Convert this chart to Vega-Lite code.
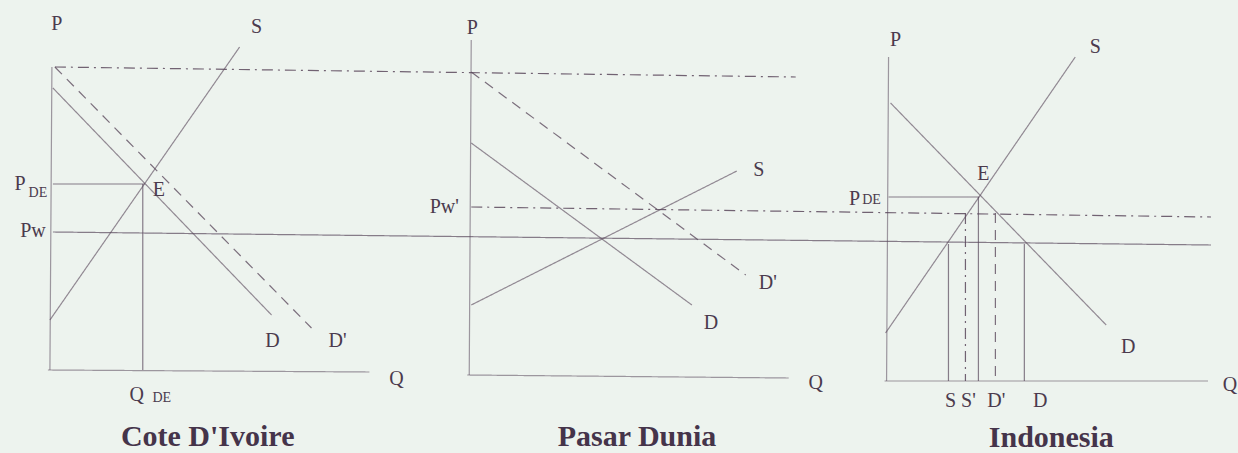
{
  "$schema": "https://vega.github.io/schema/vega-lite/v6.json",
  "width": 1238,
  "height": 453,
  "autosize": {"type": "fit", "contains": "padding"},
  "padding": 0,
  "background": "#edf3ee",
  "config": {"view": {"stroke": null}},
  "datasets": {
    "segs": [
      {"panel": "Cote D'Ivoire", "name": "P axis", "kind": "axis", "q1": 52, "p1": 67, "q2": 50, "p2": 370},
      {"panel": "Cote D'Ivoire", "name": "Q axis", "kind": "axis", "q1": 48, "p1": 370, "q2": 370, "p2": 372},
      {"panel": "Cote D'Ivoire", "name": "S", "kind": "curve", "q1": 50, "p1": 320, "q2": 240, "p2": 47},
      {"panel": "Cote D'Ivoire", "name": "D", "kind": "curve", "q1": 53, "p1": 88, "q2": 272, "p2": 315},
      {"panel": "Cote D'Ivoire", "name": "D'", "kind": "shifted", "q1": 55, "p1": 67, "q2": 312, "p2": 328},
      {"panel": "all", "name": "top price", "kind": "guide", "q1": 55, "p1": 67, "q2": 797, "p2": 77},
      {"panel": "Cote D'Ivoire", "name": "P_DE", "kind": "price", "q1": 53, "p1": 184, "q2": 145, "p2": 184},
      {"panel": "Cote D'Ivoire", "name": "Q_DE", "kind": "price", "q1": 143, "p1": 184, "q2": 143, "p2": 370},
      {"panel": "all", "name": "Pw", "kind": "price", "q1": 53, "p1": 232, "q2": 1213, "p2": 245},
      {"panel": "Pasar Dunia", "name": "P axis", "kind": "axis", "q1": 472, "p1": 40, "q2": 470, "p2": 375},
      {"panel": "Pasar Dunia", "name": "Q axis", "kind": "axis", "q1": 468, "p1": 375, "q2": 790, "p2": 378},
      {"panel": "Pasar Dunia", "name": "D", "kind": "curve", "q1": 472, "p1": 143, "q2": 693, "p2": 305},
      {"panel": "Pasar Dunia", "name": "D'", "kind": "shifted", "q1": 472, "p1": 72, "q2": 747, "p2": 275},
      {"panel": "Pasar Dunia", "name": "S", "kind": "curve", "q1": 472, "p1": 305, "q2": 738, "p2": 171},
      {"panel": "all", "name": "Pw'", "kind": "guide", "q1": 472, "p1": 207, "q2": 1213, "p2": 217},
      {"panel": "Indonesia", "name": "P axis", "kind": "axis", "q1": 890, "p1": 57, "q2": 888, "p2": 381},
      {"panel": "Indonesia", "name": "Q axis", "kind": "axis", "q1": 886, "p1": 381, "q2": 1210, "p2": 381},
      {"panel": "Indonesia", "name": "S", "kind": "curve", "q1": 887, "p1": 333, "q2": 1077, "p2": 57},
      {"panel": "Indonesia", "name": "D", "kind": "curve", "q1": 892, "p1": 103, "q2": 1108, "p2": 325},
      {"panel": "Indonesia", "name": "P_DE", "kind": "price", "q1": 890, "p1": 197, "q2": 981, "p2": 197},
      {"panel": "Indonesia", "name": "S qty", "kind": "price", "q1": 950, "p1": 244, "q2": 950, "p2": 381},
      {"panel": "Indonesia", "name": "S' qty", "kind": "guide", "q1": 967, "p1": 213, "q2": 967, "p2": 381},
      {"panel": "Indonesia", "name": "E qty", "kind": "price", "q1": 980, "p1": 197, "q2": 980, "p2": 381},
      {"panel": "Indonesia", "name": "D' qty", "kind": "shifted", "q1": 997, "p1": 213, "q2": 997, "p2": 381},
      {"panel": "Indonesia", "name": "D qty", "kind": "price", "q1": 1026, "p1": 244, "q2": 1026, "p2": 381}
    ],
    "labels": [
      {"role": "label", "text": "P", "q": 57, "p": 24},
      {"role": "label", "text": "S", "q": 257, "p": 27},
      {"role": "label", "text": "P", "q": 20, "p": 184},
      {"role": "sub", "text": "DE", "q": 38, "p": 193},
      {"role": "label", "text": "E", "q": 159, "p": 190},
      {"role": "label", "text": "Pw", "q": 33, "p": 231},
      {"role": "label", "text": "D", "q": 273, "p": 341},
      {"role": "label", "text": "D'", "q": 338, "p": 341},
      {"role": "label", "text": "Q", "q": 397, "p": 379},
      {"role": "label", "text": "Q", "q": 137, "p": 395},
      {"role": "sub", "text": "DE", "q": 162, "p": 398},
      {"role": "title", "text": "Cote D'Ivoire", "q": 208, "p": 437},
      {"role": "label", "text": "P", "q": 473, "p": 28},
      {"role": "label", "text": "Pw'", "q": 445, "p": 207},
      {"role": "label", "text": "S", "q": 760, "p": 170},
      {"role": "label", "text": "D'", "q": 769, "p": 283},
      {"role": "label", "text": "D", "q": 712, "p": 323},
      {"role": "label", "text": "Q", "q": 817, "p": 383},
      {"role": "title", "text": "Pasar Dunia", "q": 638, "p": 437},
      {"role": "label", "text": "P", "q": 897, "p": 40},
      {"role": "label", "text": "S", "q": 1097, "p": 47},
      {"role": "label", "text": "E", "q": 985, "p": 174},
      {"role": "label", "text": "P", "q": 856, "p": 199},
      {"role": "sub", "text": "DE", "q": 873, "p": 200},
      {"role": "label", "text": "D", "q": 1130, "p": 347},
      {"role": "label", "text": "Q", "q": 1232, "p": 385},
      {"role": "label", "text": "S", "q": 952, "p": 401},
      {"role": "label", "text": "S'", "q": 970, "p": 401},
      {"role": "label", "text": "D'", "q": 998, "p": 401},
      {"role": "label", "text": "D", "q": 1042, "p": 401},
      {"role": "title", "text": "Indonesia", "q": 1053, "p": 438}
    ]
  },
  "layer": [
    {
      "data": {"name": "segs"},
      "mark": {"type": "rule", "strokeWidth": 1.2, "color": "#5a485c"},
      "encoding": {
        "x": {"field": "q1", "type": "quantitative", "scale": {"domain": [0, 1238], "nice": false, "zero": false}, "axis": null},
        "y": {"field": "p1", "type": "quantitative", "scale": {"domain": [0, 453], "nice": false, "zero": false, "reverse": true}, "axis": null},
        "x2": {"field": "q2"},
        "y2": {"field": "p2"},
        "strokeDash": {
          "field": "kind",
          "type": "nominal",
          "scale": {"domain": ["axis", "curve", "price", "shifted", "guide"], "range": [[1, 0], [1, 0], [1, 0], [10, 7], [11, 5, 2, 5]]},
          "legend": null
        },
        "opacity": {
          "field": "kind",
          "type": "nominal",
          "scale": {"domain": ["axis", "curve", "price", "shifted", "guide"], "range": [0.55, 0.85, 1, 0.95, 0.95]},
          "legend": null
        }
      }
    },
    {
      "data": {"name": "labels"},
      "transform": [{"filter": "datum.role === 'label'"}],
      "mark": {"type": "text", "font": "Liberation Serif", "fontSize": 20, "color": "#4b3a4d", "align": "center", "baseline": "middle"},
      "encoding": {
        "x": {"field": "q", "type": "quantitative"},
        "y": {"field": "p", "type": "quantitative"},
        "text": {"field": "text"}
      }
    },
    {
      "data": {"name": "labels"},
      "transform": [{"filter": "datum.role === 'sub'"}],
      "mark": {"type": "text", "font": "Liberation Serif", "fontSize": 14, "color": "#4b3a4d", "align": "center", "baseline": "middle"},
      "encoding": {
        "x": {"field": "q", "type": "quantitative"},
        "y": {"field": "p", "type": "quantitative"},
        "text": {"field": "text"}
      }
    },
    {
      "data": {"name": "labels"},
      "transform": [{"filter": "datum.role === 'title'"}],
      "mark": {"type": "text", "font": "Liberation Serif", "fontSize": 30, "fontWeight": "bold", "color": "#45344a", "align": "center", "baseline": "middle"},
      "encoding": {
        "x": {"field": "q", "type": "quantitative"},
        "y": {"field": "p", "type": "quantitative"},
        "text": {"field": "text"}
      }
    }
  ]
}
